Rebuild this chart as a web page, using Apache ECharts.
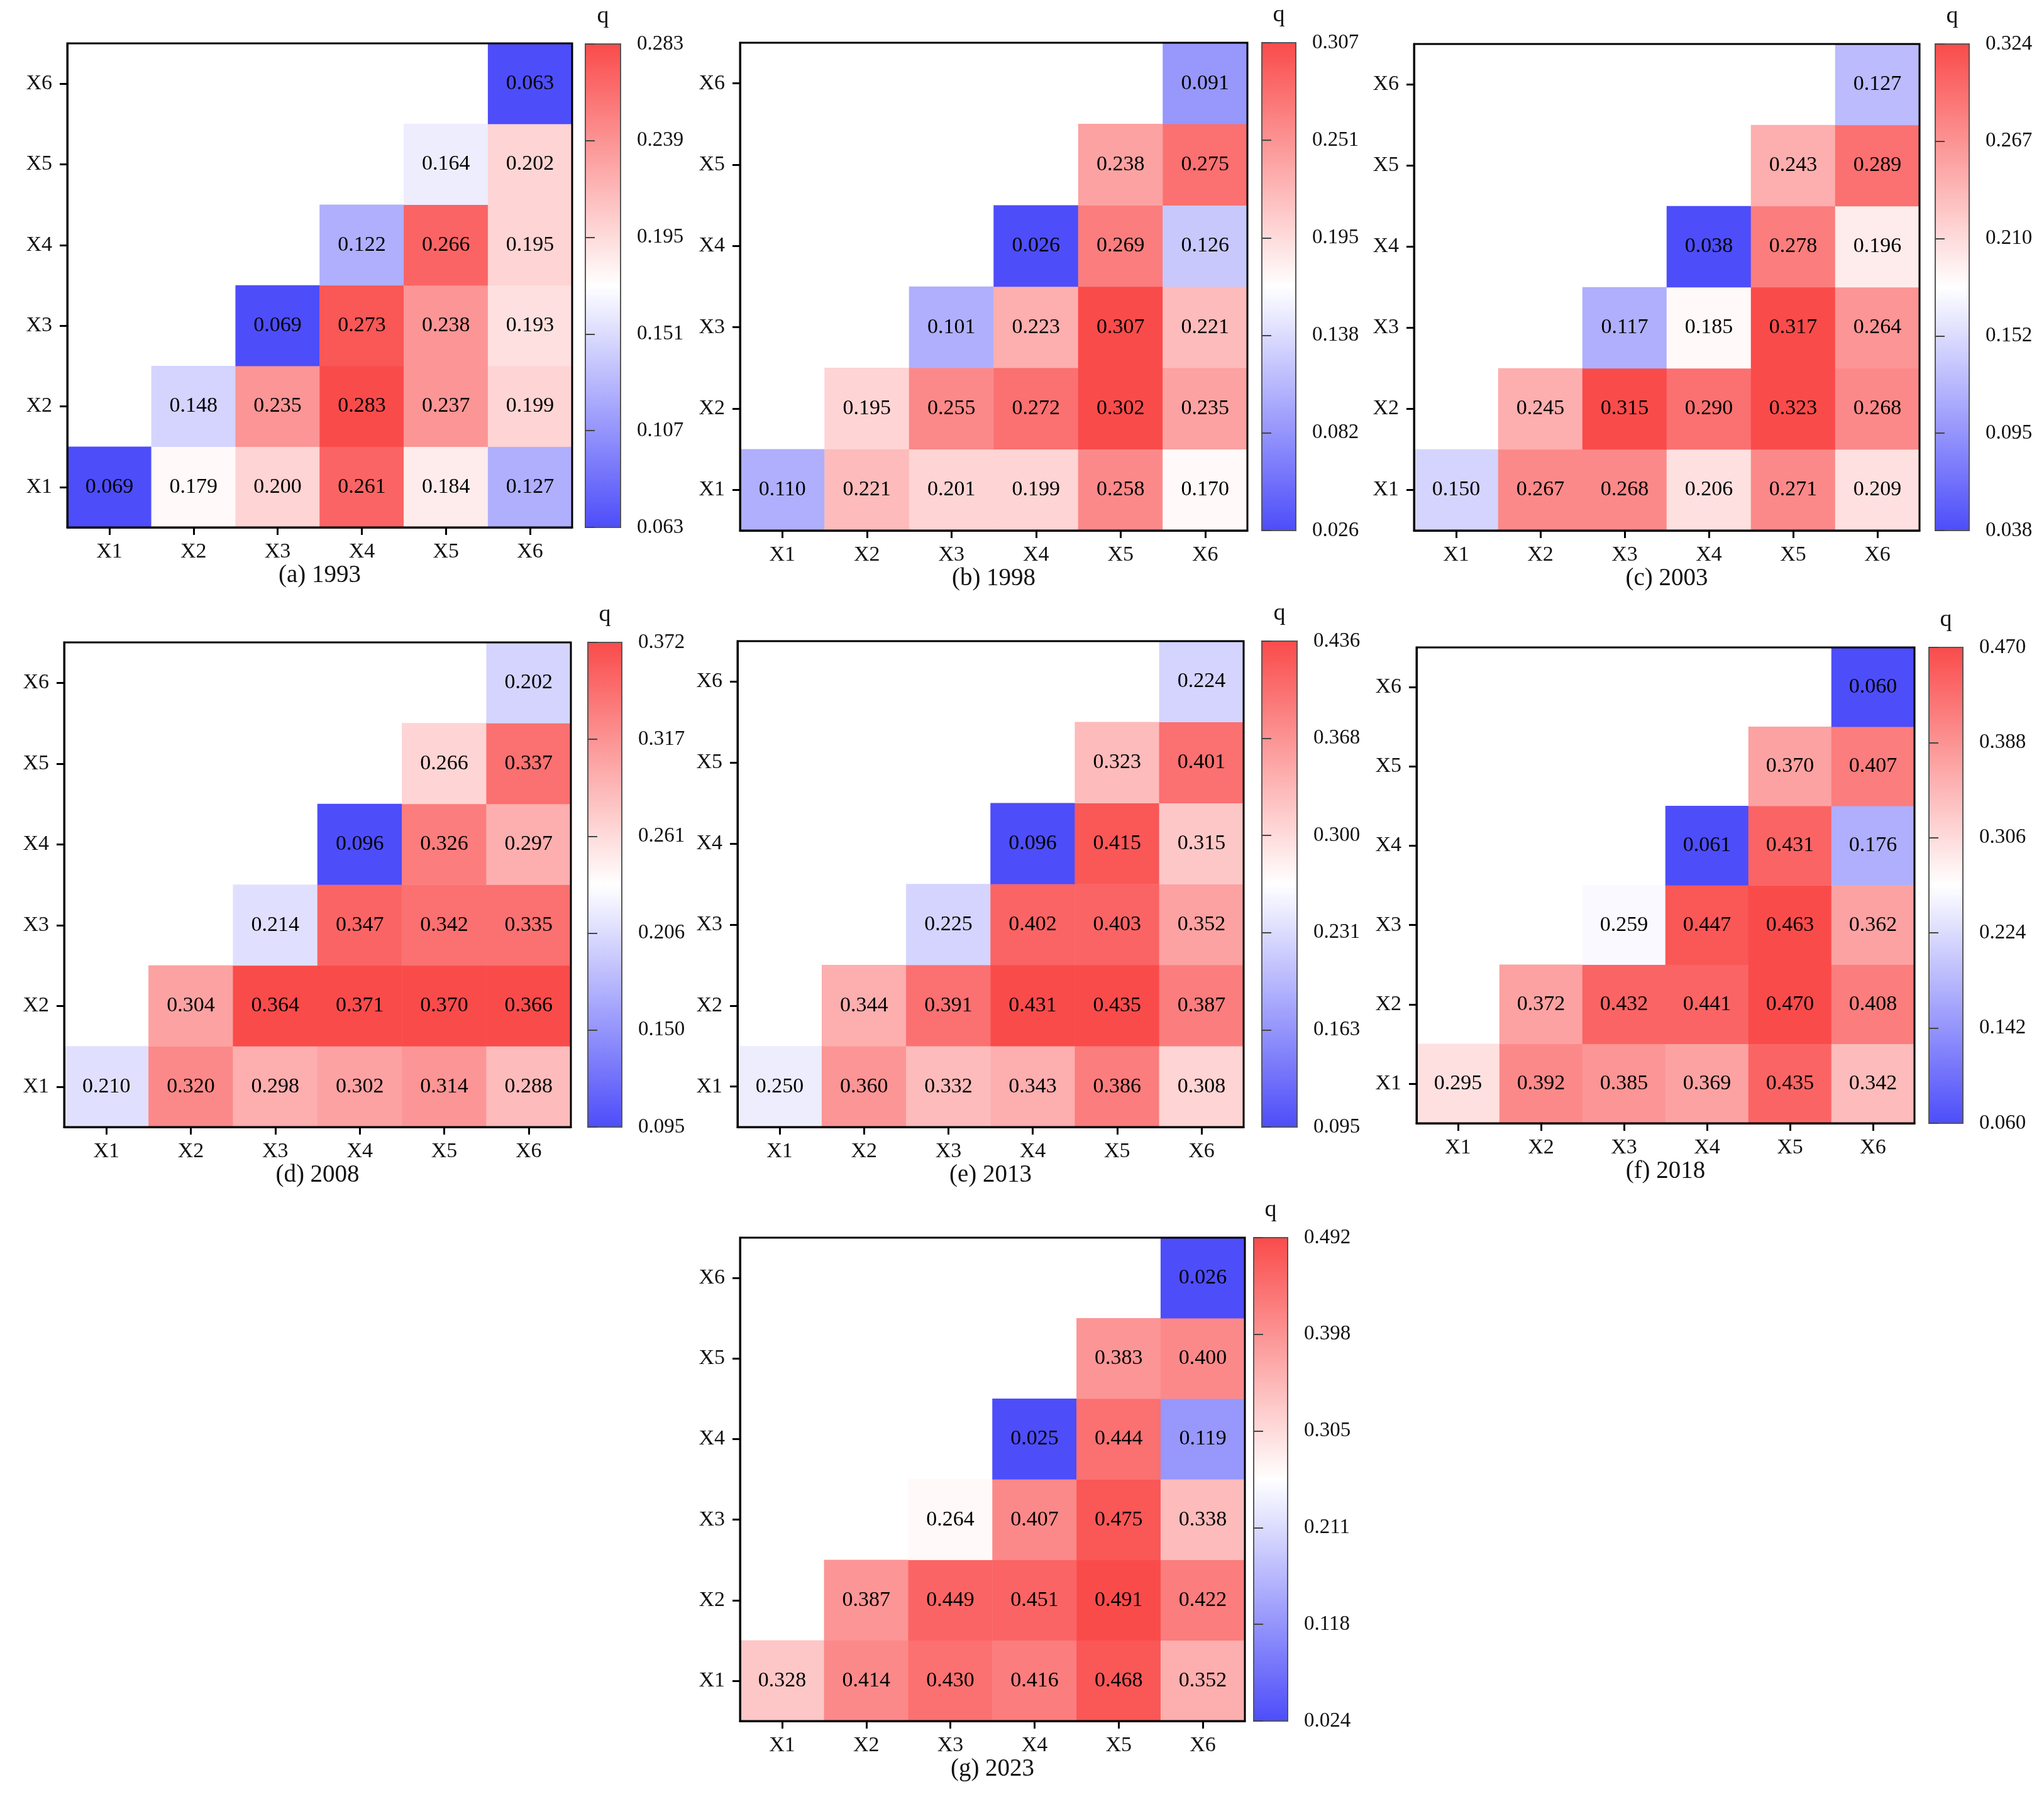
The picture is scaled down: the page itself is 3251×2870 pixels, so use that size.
<!DOCTYPE html>
<html>
<head>
<meta charset="utf-8">
<title>q heatmaps</title>
<script src="https://cdn.jsdelivr.net/npm/echarts@6/dist/echarts.min.js"></script>
<style>
  html, body { margin: 0; padding: 0; background: #fff; }
  #chart { width: 3251px; height: 2870px; }
</style>
</head>
<body>
<div id="chart"></div>
<script>
// categories
var cats = ['X1', 'X2', 'X3', 'X4', 'X5', 'X6'];
var captions = ['(a) 1993', '(b) 1998', '(c) 2003', '(d) 2008', '(e) 2013', '(f) 2018', '(g) 2023'];

// each row: row Xi, values for columns Xi..X6
var q1993 = [[0.069, 0.179, 0.200, 0.261, 0.184, 0.127], [0.148, 0.235, 0.283, 0.237, 0.199], [0.069, 0.273, 0.238, 0.193], [0.122, 0.266, 0.195], [0.164, 0.202], [0.063]];
var q1998 = [[0.110, 0.221, 0.201, 0.199, 0.258, 0.170], [0.195, 0.255, 0.272, 0.302, 0.235], [0.101, 0.223, 0.307, 0.221], [0.026, 0.269, 0.126], [0.238, 0.275], [0.091]];
var q2003 = [[0.150, 0.267, 0.268, 0.206, 0.271, 0.209], [0.245, 0.315, 0.290, 0.323, 0.268], [0.117, 0.185, 0.317, 0.264], [0.038, 0.278, 0.196], [0.243, 0.289], [0.127]];
var q2008 = [[0.210, 0.320, 0.298, 0.302, 0.314, 0.288], [0.304, 0.364, 0.371, 0.370, 0.366], [0.214, 0.347, 0.342, 0.335], [0.096, 0.326, 0.297], [0.266, 0.337], [0.202]];
var q2013 = [[0.250, 0.360, 0.332, 0.343, 0.386, 0.308], [0.344, 0.391, 0.431, 0.435, 0.387], [0.225, 0.402, 0.403, 0.352], [0.096, 0.415, 0.315], [0.323, 0.401], [0.224]];
var q2018 = [[0.295, 0.392, 0.385, 0.369, 0.435, 0.342], [0.372, 0.432, 0.441, 0.470, 0.408], [0.259, 0.447, 0.463, 0.362], [0.061, 0.431, 0.176], [0.370, 0.407], [0.060]];
var q2023 = [[0.328, 0.414, 0.430, 0.416, 0.468, 0.352], [0.387, 0.449, 0.451, 0.491, 0.422], [0.264, 0.407, 0.475, 0.338], [0.025, 0.444, 0.119], [0.383, 0.400], [0.026]];

// colorbar tick labels (min ... max)
var ticks1993 = ['0.063', '0.107', '0.151', '0.195', '0.239', '0.283'];
var ticks1998 = ['0.026', '0.082', '0.138', '0.195', '0.251', '0.307'];
var ticks2003 = ['0.038', '0.095', '0.152', '0.210', '0.267', '0.324'];
var ticks2008 = ['0.095', '0.150', '0.206', '0.261', '0.317', '0.372'];
var ticks2013 = ['0.095', '0.163', '0.231', '0.300', '0.368', '0.436'];
var ticks2018 = ['0.060', '0.142', '0.224', '0.306', '0.388', '0.470'];
var ticks2023 = ['0.024', '0.118', '0.211', '0.305', '0.398', '0.492'];

var allQ = [q1993, q1998, q2003, q2008, q2013, q2018, q2023];
var allTicks = [ticks1993, ticks1998, ticks2003, ticks2008, ticks2013, ticks2018, ticks2023];

// panel placement: plot [left, top, w, h], colorbar [left, top, w, h]
var layout = [
    { plot: [107, 69, 803, 770],   bar: [931, 70, 56, 769] },
    { plot: [1177, 68, 807, 776],  bar: [2007, 68, 54, 776] },
    { plot: [2249, 70, 804, 774],  bar: [3078, 70, 54, 774] },
    { plot: [102, 1022, 806, 771], bar: [935, 1022, 54, 771] },
    { plot: [1173, 1020, 805, 773], bar: [2007, 1020, 56, 773] },
    { plot: [2253, 1030, 792, 757], bar: [3068, 1030, 54, 757] },
    { plot: [1177, 1969, 803, 769], bar: [1994, 1969, 54, 769] }
];

var FONT = 'Liberation Serif';
var BLUE = '#4d4dfa', RED = '#fa4b4b';
var NBANDS = 30;

var grids = [], xAxes = [], yAxes = [], series = [], visualMaps = [], texts = [];

layout.forEach(function (lay, p) {
    var pl = lay.plot, cb = lay.bar;
    var ticks = allTicks[p];
    var vmin = parseFloat(ticks[0]), vmax = parseFloat(ticks[5]);

    // heatmap grid
    grids.push({
        left: pl[0], top: pl[1], width: pl[2], height: pl[3],
        show: true, borderColor: '#000', borderWidth: 3, backgroundColor: 'transparent',
        z: 10, outerBoundsMode: 'none', containLabel: false
    });
    // colorbar grid (frame + ticks)
    grids.push({
        left: cb[0], top: cb[1], width: cb[2], height: cb[3],
        show: true, borderColor: '#555', borderWidth: 2, backgroundColor: 'transparent',
        z: 10, outerBoundsMode: 'none', containLabel: false
    });

    var catAxis = {
        type: 'category',
        data: cats,
        z: 10,
        axisLine: { show: true, lineStyle: { color: '#000', width: 3 } },
        axisTick: { show: true, alignWithLabel: true, length: 12, lineStyle: { color: '#000', width: 3 } },
        axisLabel: { color: '#111', fontFamily: FONT, fontSize: 34 },
        splitLine: { show: false },
        splitArea: { show: false }
    };
    xAxes.push(Object.assign({}, catAxis, { gridIndex: 2 * p, position: 'bottom',
        axisLabel: Object.assign({}, catAxis.axisLabel, { margin: 22 }) }));
    xAxes.push({ gridIndex: 2 * p + 1, type: 'value', min: 0, max: 1, show: false });

    yAxes.push(Object.assign({}, catAxis, { gridIndex: 2 * p, position: 'left',
        axisLabel: Object.assign({}, catAxis.axisLabel, { margin: 24 }) }));
    yAxes.push({
        gridIndex: 2 * p + 1, type: 'value', position: 'right',
        min: 0, max: 5, interval: 1, z: 10,
        axisLine: { show: false },
        axisTick: { show: true, inside: false, length: 15, lineStyle: { color: '#444', width: 2 } },
        minorTick: { show: false },
        axisLabel: {
            margin: 26, color: '#111', fontFamily: FONT, fontSize: 33,
            formatter: function (v) { return ticks[v]; }
        },
        splitLine: { show: false }
    });

    // heatmap cells
    var data = [];
    allQ[p].forEach(function (row, i) {
        row.forEach(function (v, k) {
            data.push([i + k, i, v]);
        });
    });
    series.push({
        type: 'heatmap',
        xAxisIndex: 2 * p,
        yAxisIndex: 2 * p,
        data: data,
        label: {
            show: true, color: '#000', fontFamily: FONT, fontSize: 34,
            formatter: function (d) { return d.value[2].toFixed(3); }
        },
        itemStyle: { borderWidth: 0 },
        emphasis: { disabled: true }
    });

    // colour bar shown on the page (not bound to a series)
    visualMaps.push({
        type: 'continuous',
        seriesIndex: [],
        min: vmin,
        max: vmax,
        orient: 'vertical',
        itemWidth: cb[2],
        itemHeight: cb[3],
        calculable: false,
        realtime: false,
        hoverLink: false,
        text: null,
        showLabel: false,
        padding: 0,
        left: cb[0],
        top: cb[1],
        inRange: { color: [BLUE, '#ffffff', RED] }
    });
    // stepped colour map for the cells (hidden)
    visualMaps.push({
        type: 'piecewise',
        show: false,
        seriesIndex: p,
        dimension: 2,
        min: vmin,
        max: vmax,
        splitNumber: NBANDS,
        inRange: { color: [BLUE, '#ffffff', RED] }
    });

    // caption under plot
    texts.push({
        type: 'text',
        x: pl[0] + pl[2] / 2,
        y: pl[1] + pl[3] + 77,
        style: { text: captions[p], fill: '#111', font: '39px "' + FONT + '"', textAlign: 'center', textVerticalAlign: 'middle' },
        z: 20
    });
    // "q" over colorbar
    texts.push({
        type: 'text',
        x: cb[0] + cb[2] / 2,
        y: cb[1] - 44,
        style: { text: 'q', fill: '#111', font: '38px "' + FONT + '"', textAlign: 'center', textVerticalAlign: 'middle' },
        z: 20
    });
});

var myChart = echarts.init(document.getElementById('chart'), null, { renderer: 'canvas' });
var option = {
    backgroundColor: '#fff',
    animation: false,
    grid: grids,
    xAxis: xAxes,
    yAxis: yAxes,
    visualMap: visualMaps,
    series: series,
    graphic: { elements: texts }
};
myChart.setOption(option);
</script>
</body>
</html>
